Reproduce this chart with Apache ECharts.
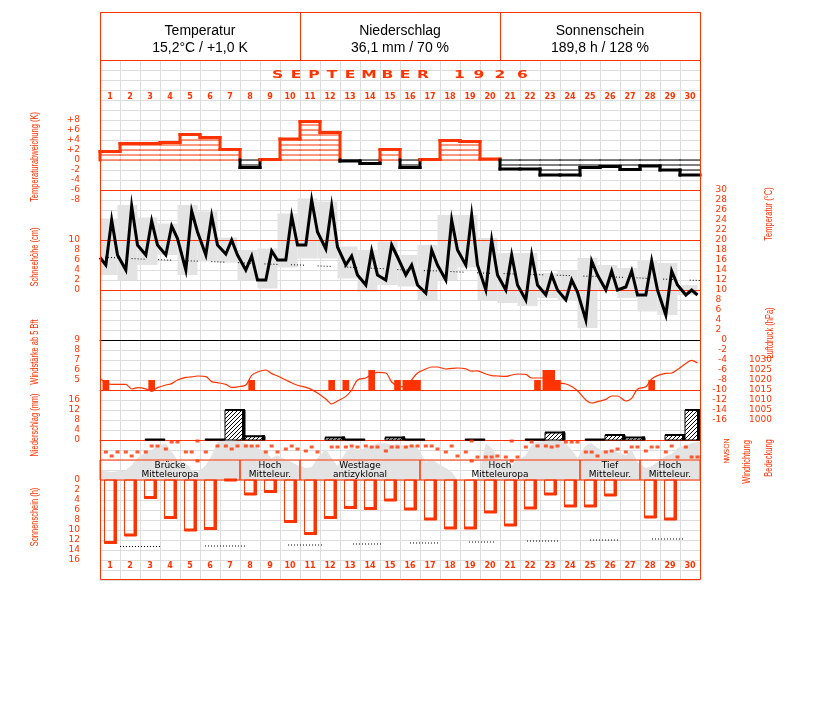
<!DOCTYPE html>
<html><head><meta charset="utf-8">
<script src="https://cdn.jsdelivr.net/npm/echarts@6/dist/echarts.min.js"></script>
<style>html,body{margin:0;padding:0;background:#fff}#c{width:827px;height:702px}</style>
</head><body><div id="c"></div>
<script>
const RED = '#ff3300';
const dayLabels = ['1','2','3','4','5','6','7','8','9','10','11','12','13','14','15','16','17','18','19','20','21','22','23','24','25','26','27','28','29','30'];
const OBS = [7/24, 14/24, 21/24];

// Temperature deviation of daily mean (K)
const tempDev = [1.7,3.3,3.3,3.5,5.1,4.5,2.1,-1.5,0.1,4.2,7.7,5.5,-0.2,-0.7,2.1,-1.5,0.1,3.9,3.7,0.2,-1.8,-1.8,-3.0,-3.0,-1.5,-1.3,-1.9,-1.2,-2.0,-3.0];
// Temperature at 7h, 14h, 21h (°C)
const tempStart = 16.5;
const tempObs = [15,24,17, 14,26.8,19, 17,23.8,19, 17,22.8,20.3, 14,25.8,21.6, 17,24.8,19, 17.2,20,17, 14,16.8,12, 12,17.8,16, 16,24.8,19,
  19,28,21.6, 18.2,26.8,18.6, 15,16.8,13, 11,17.8,13, 12,19,16.6, 13,15,11, 9.4,18,15, 12,24,18, 15,25,15, 10,20,13,
  10,17,11, 8,17,11, 9,13,10, 8,12,9.6, 4,15.8,13, 10,13.8,10, 10.6,13.8,9, 9,15.8,10, 5,13.8,11, 9,10,9];
const tempMax = [24.3,27,24.5,23.3,27,25.7,20.5,18,18.3,25.3,28.3,27.7,18.7,18,19.7,17,19,25,25,20.4,17.4,17.4,13.4,13.8,16.4,15,14.4,16,15.4,11];
const tempMin = [13,12,15,17,13,15.7,15.5,12,10.3,14.5,16.3,16.3,12.3,9.7,11,10.7,8,12,14.5,8,7.4,6.8,8.4,7.8,2.4,10,8.4,5.7,5,9];
const tempNormal = [16.6,16.4,16.2,16.05,15.9,15.75,15.6,15.45,15.25,15.1,15.0,14.8,14.65,14.45,14.3,14.05,13.9,13.8,13.6,13.4,13.3,13.15,13.05,12.95,12.8,12.7,12.55,12.4,12.2,12.05,11.9];

// Pressure (hPa) at 7h, 14h, 21h
const pressureStart = 1020.8;
const pressure = [1018.5,1017.8,1017.8, 1017.8,1015.5,1016.2, 1015.6,1014.3,1016.2, 1017.5,1018.2,1020, 1021.3,1021.6,1022,
  1021.7,1019.2,1018.7, 1017.8,1016.3,1016.6, 1017.5,1022.3,1024, 1025,1023.2,1022, 1020,1018.6,1017.4,
  1016.3,1015.2,1013.5, 1010.5,1008,1009.5, 1011.8,1015,1020, 1021,1022.8,1023.8, 1023.5,1019,1017,
  1016.5,1020,1023.5, 1025.5,1026.5,1026.5, 1025.5,1025.8,1026, 1025.6,1024.4,1024.6, 1023,1022.2,1022,
  1021.8,1022.5,1023, 1022.8,1021,1021, 1021,1020,1018.6, 1018,1016.8,1014.6, 1010,1008.5,1009.2,
  1010.3,1012,1012, 1009.5,1010.8,1015.4, 1016.6,1020.5,1022.2, 1023.3,1023.5,1025.2, 1028.3,1029.8,1028.5];

// Wind force >= 5 Bft (day, observation index 0=7h 1=14h 2=21h, Bft)
const windDay = [1,3,8,12,13,14,15,16,16,16,22,23,23,23,28];
const windObs = [0,1,1,1,0,1,2,0,1,2,2,0,1,2,1];
const windBft = [5,5,5,5,5,6,5,5,5,5,5,6,6,5,5];

// Precipitation (mm)
const precip = [0,0,0.1,0,0,0.1,12,1.5,0,0,0,1,0.1,0,1,0.1,0,0,0.1,0,0,0.1,3,0,0.1,2,1,0,2,12];

// Wind direction (degrees, 0 = N) at 7h, 14h, 21h
const windDir = [198,270,198, 198,270,198, 198,90,90, 144,18,18, 198,198,0, 198,null,90, 90,144,90, 90,90,90, 198,90,198, 144,90,144,
  180,108,198, null,108,108, 108,90,108, 90,108,108, 180,108,108, 108,90,90, 90,90,144, 198,90,270, 198,0,288, 288,288,270,
  288,0,288, 108,18,90, 90,108,90, 18,18,18, 198,198,270, 198,180,144, 198,108,108, 180,108,108, 198,90,288, 108,288,288];

// Cloud cover (tenths) at 7h, 14h, 21h
const cloud = [2.2,2,2.2, 2.5,3.7,5.5, 7,7.5,8.5, 9.2,7,5, 4.2,2.5,1.8, 3.7,6.2,9.5, 10,10,9.8, 9.2,8.5,8, 7,5.5,6.2, 5,4.5,3.7,
  3,3.2,5.5, 7.7,5.5,3.5, 7,8.2,7.5, 8,8.5,9.2, 9.2,8.7,9, 8.5,9,8, 4.5,5.2,4.2, 3,2,0, 0,0,0, 9.2,8,5.5,
  4.5,3.7,5, 6.2,8.7,9.5, 9.8,10,10, 9.2,7.5,5.5, 8.7,9.2,8, 7,7.7,7, 6.2,7.5,4.5, 3,3.5,4.5, 6,6.5,8, 8.7,9.2,9.5];

// Weather situation
const weatherFrom = [1,8,11,17,25,28];
const weatherTo = [7,10,16,24,27,30];
const weatherText = ['Brücke\nMitteleuropa','Hoch\nMitteleur.','Westlage\nantizyklonal','Hoch\nMitteleuropa','Tief\nMitteleur.','Hoch\nMitteleur.'];

// Sunshine (h)
const sun = [12.7,11.2,3.7,7.7,10.2,9.9,0.2,3,2.5,8.5,10.9,7.7,5.7,5.9,4.2,6,8,9.8,9.8,6.6,9.2,5.8,3,5.4,5.4,3.2,0,7.6,8,0];
const sunNormalFrom = [1.0,5.25,9.4,12.65,15.5,18.45,21.35,24.5,27.6];
const sunNormalTo = [3.1,7.35,11.15,14.1,16.9,19.8,22.9,26.0,29.2];
const sunNormal = [13.3,13.2,13.0,12.8,12.6,12.4,12.2,12.0,11.8];

// Wind direction tick labels
const dirLabels = {0:'N', 90:'O', 180:'S', 270:'W', 360:'N'};

// ------------------------------------------------------------------
const obsX = i => Math.floor(i/3) + OBS[i%3];
const FONT = 'DejaVu Sans';

function hatchCanvas(){
  const c = document.createElement('canvas'); c.width = 4; c.height = 4;
  const g = c.getContext('2d');
  g.fillStyle = '#fff'; g.fillRect(0,0,4,4);
  g.strokeStyle = '#000'; g.lineWidth = 1;
  g.beginPath(); g.moveTo(0,4); g.lineTo(4,0); g.moveTo(-1,1); g.lineTo(1,-1); g.moveTo(3,5); g.lineTo(5,3); g.stroke();
  return c;
}
const HATCH = hatchCanvas();

function mkLine(api, ch, x0,y0,x1,y1,c,w,dash){
  const a = api.coord([x0,y0]), b = api.coord([x1,y1]);
  ch.push({type:'line', shape:{x1:a[0],y1:a[1],x2:b[0],y2:b[1]}, style:{stroke:c, lineWidth:w, lineCap:'square', lineDash:dash||null}});
}

function devRender(params, api){
  const i = api.value(0), v = api.value(1), pv = api.value(2);
  const col = v >= 0 ? RED : '#000';
  const ch = [];
  const s = v >= 0 ? 1 : -1;
  for (let k = 0; k < Math.abs(v); k++) mkLine(api, ch, i, s*k, i+1, s*k, col, 1);
  if (v === 0) mkLine(api, ch, i, 0, i+1, 0, col, 1);
  mkLine(api, ch, i, v, i+1, v, col, 3);
  if ((pv >= 0) === (v >= 0)) mkLine(api, ch, i, pv, i, v, col, 3);
  else { mkLine(api, ch, i, pv, i, 0, pv >= 0 ? RED : '#000', 3); mkLine(api, ch, i, 0, i, v, col, 3); }
  return {type:'group', children: ch};
}

function boxRender(params, api){
  const d = api.value(0), hi = api.value(1), lo = api.value(2);
  const a = api.coord([Math.max(d-1.125, 0), hi]), b = api.coord([d-0.125, lo]);
  return {type:'rect', shape:{x:a[0], y:a[1], width:b[0]-a[0], height:b[1]-a[1]}, style:{fill:'#e3e3e3'}};
}

function windRender(params, api){
  const x = api.value(0), v = api.value(1);
  const a = api.coord([x-1/6, v]), b = api.coord([x+1/6, 4]);
  return {type:'rect', shape:{x:a[0], y:a[1], width:b[0]-a[0], height:b[1]-a[1]}, style:{fill:RED}};
}

function precipRender(params, api){
  const d = api.value(0), v = api.value(1);
  const x0 = d - 0.75, x1 = Math.min(d + 0.25, 30);
  const a = api.coord([x0, v]), b = api.coord([x1, 0]);
  const h = Math.max(b[1]-a[1], 0.5);
  const ch = [];
  ch.push({type:'rect', shape:{x:a[0], y:b[1]-h, width:b[0]-a[0], height:h}, style:{fill:{image:HATCH, repeat:'repeat'}, stroke:'#000', lineWidth:1}});
  ch.push({type:'rect', shape:{x:a[0], y:b[1]-h-1, width:b[0]-a[0], height:2}, style:{fill:'#000'}});
  if (v > 0.5) ch.push({type:'rect', shape:{x:b[0]-3, y:b[1]-h-1, width:3, height:h+1}, style:{fill:'#000'}});
  return {type:'group', children: ch};
}

function weatherRender(params, api){
  const f = api.value(0), t = api.value(1), idx = api.value(2);
  const a = api.coord([f-1, 5]), b = api.coord([t, 0]);
  return {type:'group', children:[
    {type:'rect', shape:{x:a[0], y:a[1], width:b[0]-a[0], height:b[1]-a[1]}, style:{fill:'none', stroke:RED, lineWidth:1}},
    {type:'text', x:(a[0]+b[0])/2, y:(a[1]+b[1])/2+0.5, style:{text: weatherText[idx], fill:'#000', font:'9px "DejaVu Sans"', align:'center', verticalAlign:'middle', lineHeight:9}}
  ]};
}

function sunRender(params, api){
  const d = api.value(0), v = api.value(1);
  const a = api.coord([d-1+0.2, 0]), b = api.coord([d-1+0.85, v]);
  const w = b[0]-a[0], h = b[1]-a[1];
  return {type:'group', children:[
    {type:'rect', shape:{x:a[0]+0.5, y:a[1], width:w-1, height:h}, style:{fill:'none', stroke:RED, lineWidth:1}},
    {type:'rect', shape:{x:b[0]-3.5, y:a[1], width:3.5, height:h}, style:{fill:RED}},
    {type:'rect', shape:{x:a[0], y:b[1]-2.5, width:w, height:2.5}, style:{fill:RED}}
  ]};
}

function sunNormRender(params, api){
  const f = api.value(0), t = api.value(1), v = api.value(2);
  const ch = [];
  mkLine(api, ch, f, v, t, v, '#000', 1, [1,2]);
  ch[0].style.lineCap = 'butt';
  return {type:'group', children: ch};
}

function dirLabelRender(params, api){
  const v = api.value(0);
  const p = api.coord([30, v]);
  return {type:'text', x:p[0]+27, y:p[1], rotation:Math.PI/2,
    style:{text: dirLabels[v], fill:RED, font:'7px "DejaVu Sans"', align:'center', verticalAlign:'middle'}};
}

// ------------------------------------------------------------------
function grid(top, height){ return {left:100, width:600, top, height, containLabel:false, outerBoundsMode:'none'}; }
function vx(gi, extra){
  return Object.assign({type:'value', gridIndex:gi, min:0, max:30, interval:1,
    axisLine:{show:false, onZero:false}, axisTick:{show:false}, axisLabel:{show:false}, splitLine:{show:false}}, extra||{});
}
const lblStyle = {color:RED, fontSize:9, fontFamily:FONT};
function vy(gi, min, max, interval, extra){
  return Object.assign({type:'value', gridIndex:gi, min, max, interval,
    axisLine:{show:false, onZero:false}, axisTick:{show:false}, splitLine:{show:false}, axisLabel:{show:false}}, extra||{});
}

const grids = [
  grid(60, 520),   // 0 background raster
  grid(110, 100),  // 1 temperature deviation
  grid(190, 230),  // 2 temperature / pressure
  grid(340, 50),   // 3 wind force
  grid(400, 40),   // 4 precipitation
  grid(441, 20),   // 5 wind direction
  grid(440, 40),   // 6 cloud cover / weather situation
  grid(480, 80)    // 7 sunshine
];

const xAxes = [
  vx(0, {splitLine:{show:true, lineStyle:{color:'#dddddd', width:1}}}),
  vx(1), vx(2),
  vx(3, {position:'bottom', axisLine:{show:true, onZero:false, lineStyle:{color:RED, width:1}}}),
  vx(4, {position:'bottom', axisLine:{show:true, onZero:false, lineStyle:{color:RED, width:1}}}),
  vx(5), vx(6), vx(7, {position:'top'}),
  {type:'category', gridIndex:1, position:'top', data:dayLabels, boundaryGap:true, axisLine:{show:false}, axisTick:{show:false}, splitLine:{show:false},
    axisLabel:{show:true, interval:0, margin:9, color:RED, fontSize:8, fontWeight:'bold', fontFamily:FONT}},
  {type:'category', gridIndex:7, position:'bottom', data:dayLabels, boundaryGap:true, axisLine:{show:false}, axisTick:{show:false}, splitLine:{show:false},
    axisLabel:{show:true, interval:0, margin:2, color:RED, fontSize:8, fontWeight:'bold', fontFamily:FONT}},
  vx(3, {position:'top', axisLine:{show:true, onZero:false, lineStyle:{color:'#000', width:1}}})
];

const yAxes = [
  vy(0, 0, 52, 1, {splitLine:{show:true, lineStyle:{color:'#dddddd', width:1}}}),
  vy(1, -10, 10, 2, {position:'left', axisLabel:Object.assign({show:true, margin:20, formatter: v => Math.abs(v) > 8 ? '' : (v > 0 ? '+' + v : String(v))}, lblStyle)}),
  vy(2, -16, 30, 2, {position:'right', axisLabel:Object.assign({show:true, margin:27, align:'right', formatter: v => (v > 0 && v < 10) ? v + '  ' : String(v)}, lblStyle)}),
  vy(2, -26, 20, 2, {position:'left', axisLabel:Object.assign({show:true, margin:20, formatter: v => (v >= 0 && v <= 10) ? String(v) : ''}, lblStyle)}),
  vy(2, 1000, 1115, 5, {position:'right', axisLabel:Object.assign({show:true, margin:72, align:'right', formatter: v => v <= 1030 ? String(v) : ''}, lblStyle)}),
  vy(3, 4, 9, 1, {position:'left', axisLabel:Object.assign({show:true, margin:20, formatter: v => v >= 5 ? String(v) : ''}, lblStyle)}),
  vy(4, 0, 16, 4, {position:'left', axisLabel:Object.assign({show:true, margin:20}, lblStyle)}),
  vy(5, 0, 360, 90, {position:'right', inverse:true}),
  vy(6, 0, 10, 1),
  vy(7, 0, 16, 2, {position:'left', inverse:true, axisLabel:Object.assign({show:true, margin:20}, lblStyle)})
];

const windDirData = [];
windDir.forEach((v,i) => { if (v === null) return; windDirData.push([obsX(i), v]); if (v === 0) windDirData.push([obsX(i), 360]); });

const series = [
  {type:'custom', name:'dev', xAxisIndex:1, yAxisIndex:1, z:3, renderItem:devRender,
    data: tempDev.map((v,i) => [i, v, i ? tempDev[i-1] : 0])},
  {type:'custom', name:'tbox', xAxisIndex:2, yAxisIndex:2, z:2, renderItem:boxRender,
    data: tempMax.map((v,i) => [i+1, v, tempMin[i]])},
  {type:'line', name:'tnorm', xAxisIndex:2, yAxisIndex:2, z:3, symbol:'none', silent:true,
    lineStyle:{color:'#000', width:1, type:[1,2,1,2,1,2,1,2,1,13.6], dashOffset:21.6},
    data: tempNormal.map((v,i) => [i, v]),
    markLine:{silent:true, symbol:'none', label:{show:false}, lineStyle:{color:RED, width:1, type:'solid'},
      data:[{yAxis:30},{yAxis:20},{yAxis:10}]}},
  {type:'line', name:'temp', xAxisIndex:2, yAxisIndex:2, z:5, symbol:'none', silent:true,
    lineStyle:{color:'#000', width:3, join:'miter'},
    data: [[0, tempStart]].concat(tempObs.map((v,i) => [obsX(i), v]))},
  {type:'line', name:'pressure', xAxisIndex:2, yAxisIndex:4, z:4, symbol:'none', silent:true, smooth:0.3,
    lineStyle:{color:RED, width:1.2},
    data: [[0, pressureStart]].concat(pressure.map((v,i) => [obsX(i), v]))},
  {type:'custom', name:'wind', xAxisIndex:3, yAxisIndex:5, z:3, renderItem:windRender,
    data: windDay.map((d,k) => [d-1+OBS[windObs[k]], windBft[k]])},
  {type:'custom', name:'precip', xAxisIndex:4, yAxisIndex:6, z:3, renderItem:precipRender,
    data: precip.map((v,i) => [i+1, v]).filter(p => p[1] > 0)},
  {type:'line', name:'cloud', xAxisIndex:6, yAxisIndex:8, z:2, symbol:'none', silent:true,
    lineStyle:{width:0}, areaStyle:{color:'#e3e3e3', opacity:1},
    data: [[0, cloud[0]]].concat(cloud.map((v,i) => [obsX(i), v])).concat([[30, cloud[cloud.length-1]]])},
  {type:'scatter', name:'winddir', xAxisIndex:5, yAxisIndex:7, z:4, symbol:'rect', symbolSize:[4,3], silent:true,
    itemStyle:{color:RED}, data: windDirData},
  {type:'custom', name:'dirlabels', xAxisIndex:5, yAxisIndex:7, z:6, renderItem:dirLabelRender, silent:true,
    data: Object.keys(dirLabels).map(k => [Number(k)])},
  {type:'custom', name:'weather', xAxisIndex:6, yAxisIndex:8, z:4, renderItem:weatherRender,
    data: weatherFrom.map((f,i) => [f, weatherTo[i], i])},
  {type:'custom', name:'sun', xAxisIndex:7, yAxisIndex:9, z:3, renderItem:sunRender,
    data: sun.map((v,i) => [i+1, v]).filter(p => p[1] > 0)},
  {type:'custom', name:'sunnorm', xAxisIndex:7, yAxisIndex:9, z:3, renderItem:sunNormRender,
    data: sunNormal.map((v,i) => [sunNormalFrom[i], sunNormalTo[i], v])}
];
series.find(s => s.name === 'dirlabels').encode = {y:0};

// ------------------------------------------------------------------
function vtitle(text, x, y){
  return {type:'text', x, y, rotation:Math.PI/2, scaleX:0.68, z:10,
    style:{text, fill:RED, font:'11px "Liberation Sans"', align:'center', verticalAlign:'middle'}};
}
const titleChars = ['S','E','P','T','E','M','B','E','R','1','9','2','6'];
const titleX = [277.5,296,314,332,350,369,387.5,405,423,459.5,479,500,522.5];
const graphic = [
  {type:'rect', z:20, shape:{x:100.5, y:12.5, width:600, height:567}, style:{fill:'none', stroke:RED, lineWidth:1}},
  {type:'rect', z:19, shape:{x:100.5, y:12.5, width:600, height:48}, style:{fill:'#fff', stroke:RED, lineWidth:1}},
  {type:'line', z:20, shape:{x1:300.5, y1:12, x2:300.5, y2:60}, style:{stroke:RED, lineWidth:1}},
  {type:'line', z:20, shape:{x1:500.5, y1:12, x2:500.5, y2:60}, style:{stroke:RED, lineWidth:1}},
  {type:'text', z:21, x:200, y:31, style:{text:'Temperatur', fill:'#000', font:'14px "Liberation Sans"', align:'center', verticalAlign:'middle'}},
  {type:'text', z:21, x:200, y:48, style:{text:'15,2°C / +1,0 K', fill:'#000', font:'14px "Liberation Sans"', align:'center', verticalAlign:'middle'}},
  {type:'text', z:21, x:400, y:31, style:{text:'Niederschlag', fill:'#000', font:'14px "Liberation Sans"', align:'center', verticalAlign:'middle'}},
  {type:'text', z:21, x:400, y:48, style:{text:'36,1 mm / 70 %', fill:'#000', font:'14px "Liberation Sans"', align:'center', verticalAlign:'middle'}},
  {type:'text', z:21, x:600, y:31, style:{text:'Sonnenschein', fill:'#000', font:'14px "Liberation Sans"', align:'center', verticalAlign:'middle'}},
  {type:'text', z:21, x:600, y:48, style:{text:'189,8 h / 128 %', fill:'#000', font:'14px "Liberation Sans"', align:'center', verticalAlign:'middle'}},
  vtitle('Temperaturabweichung (K)', 35, 157),
  vtitle('Schneehöhe (cm)', 35, 257),
  vtitle('Windstärke ab 5 Bft', 35, 352),
  vtitle('Niederschlag (mm)', 35, 425),
  vtitle('Sonnenschein (h)', 35, 517),
  vtitle('Temperatur (°C)', 769, 214),
  vtitle('Luftdruck (hPa)', 770, 333),
  vtitle('Windrichtung', 747, 462),
  vtitle('Bedeckung', 769, 458)
].concat(titleChars.map((c,i) => ({type:'text', z:21, x:titleX[i], y:75, scaleX:1.55,
  style:{text:c, fill:RED, font:'bold 10px "DejaVu Sans"', align:'center', verticalAlign:'middle'}})));

const chart = echarts.init(document.getElementById('c'), null, {renderer:'canvas'});
chart.setOption({
  animation:false,
  backgroundColor:'#fff',
  textStyle:{fontFamily:FONT},
  grid: grids, xAxis: xAxes, yAxis: yAxes, series, graphic
});
</script>
</body></html>
